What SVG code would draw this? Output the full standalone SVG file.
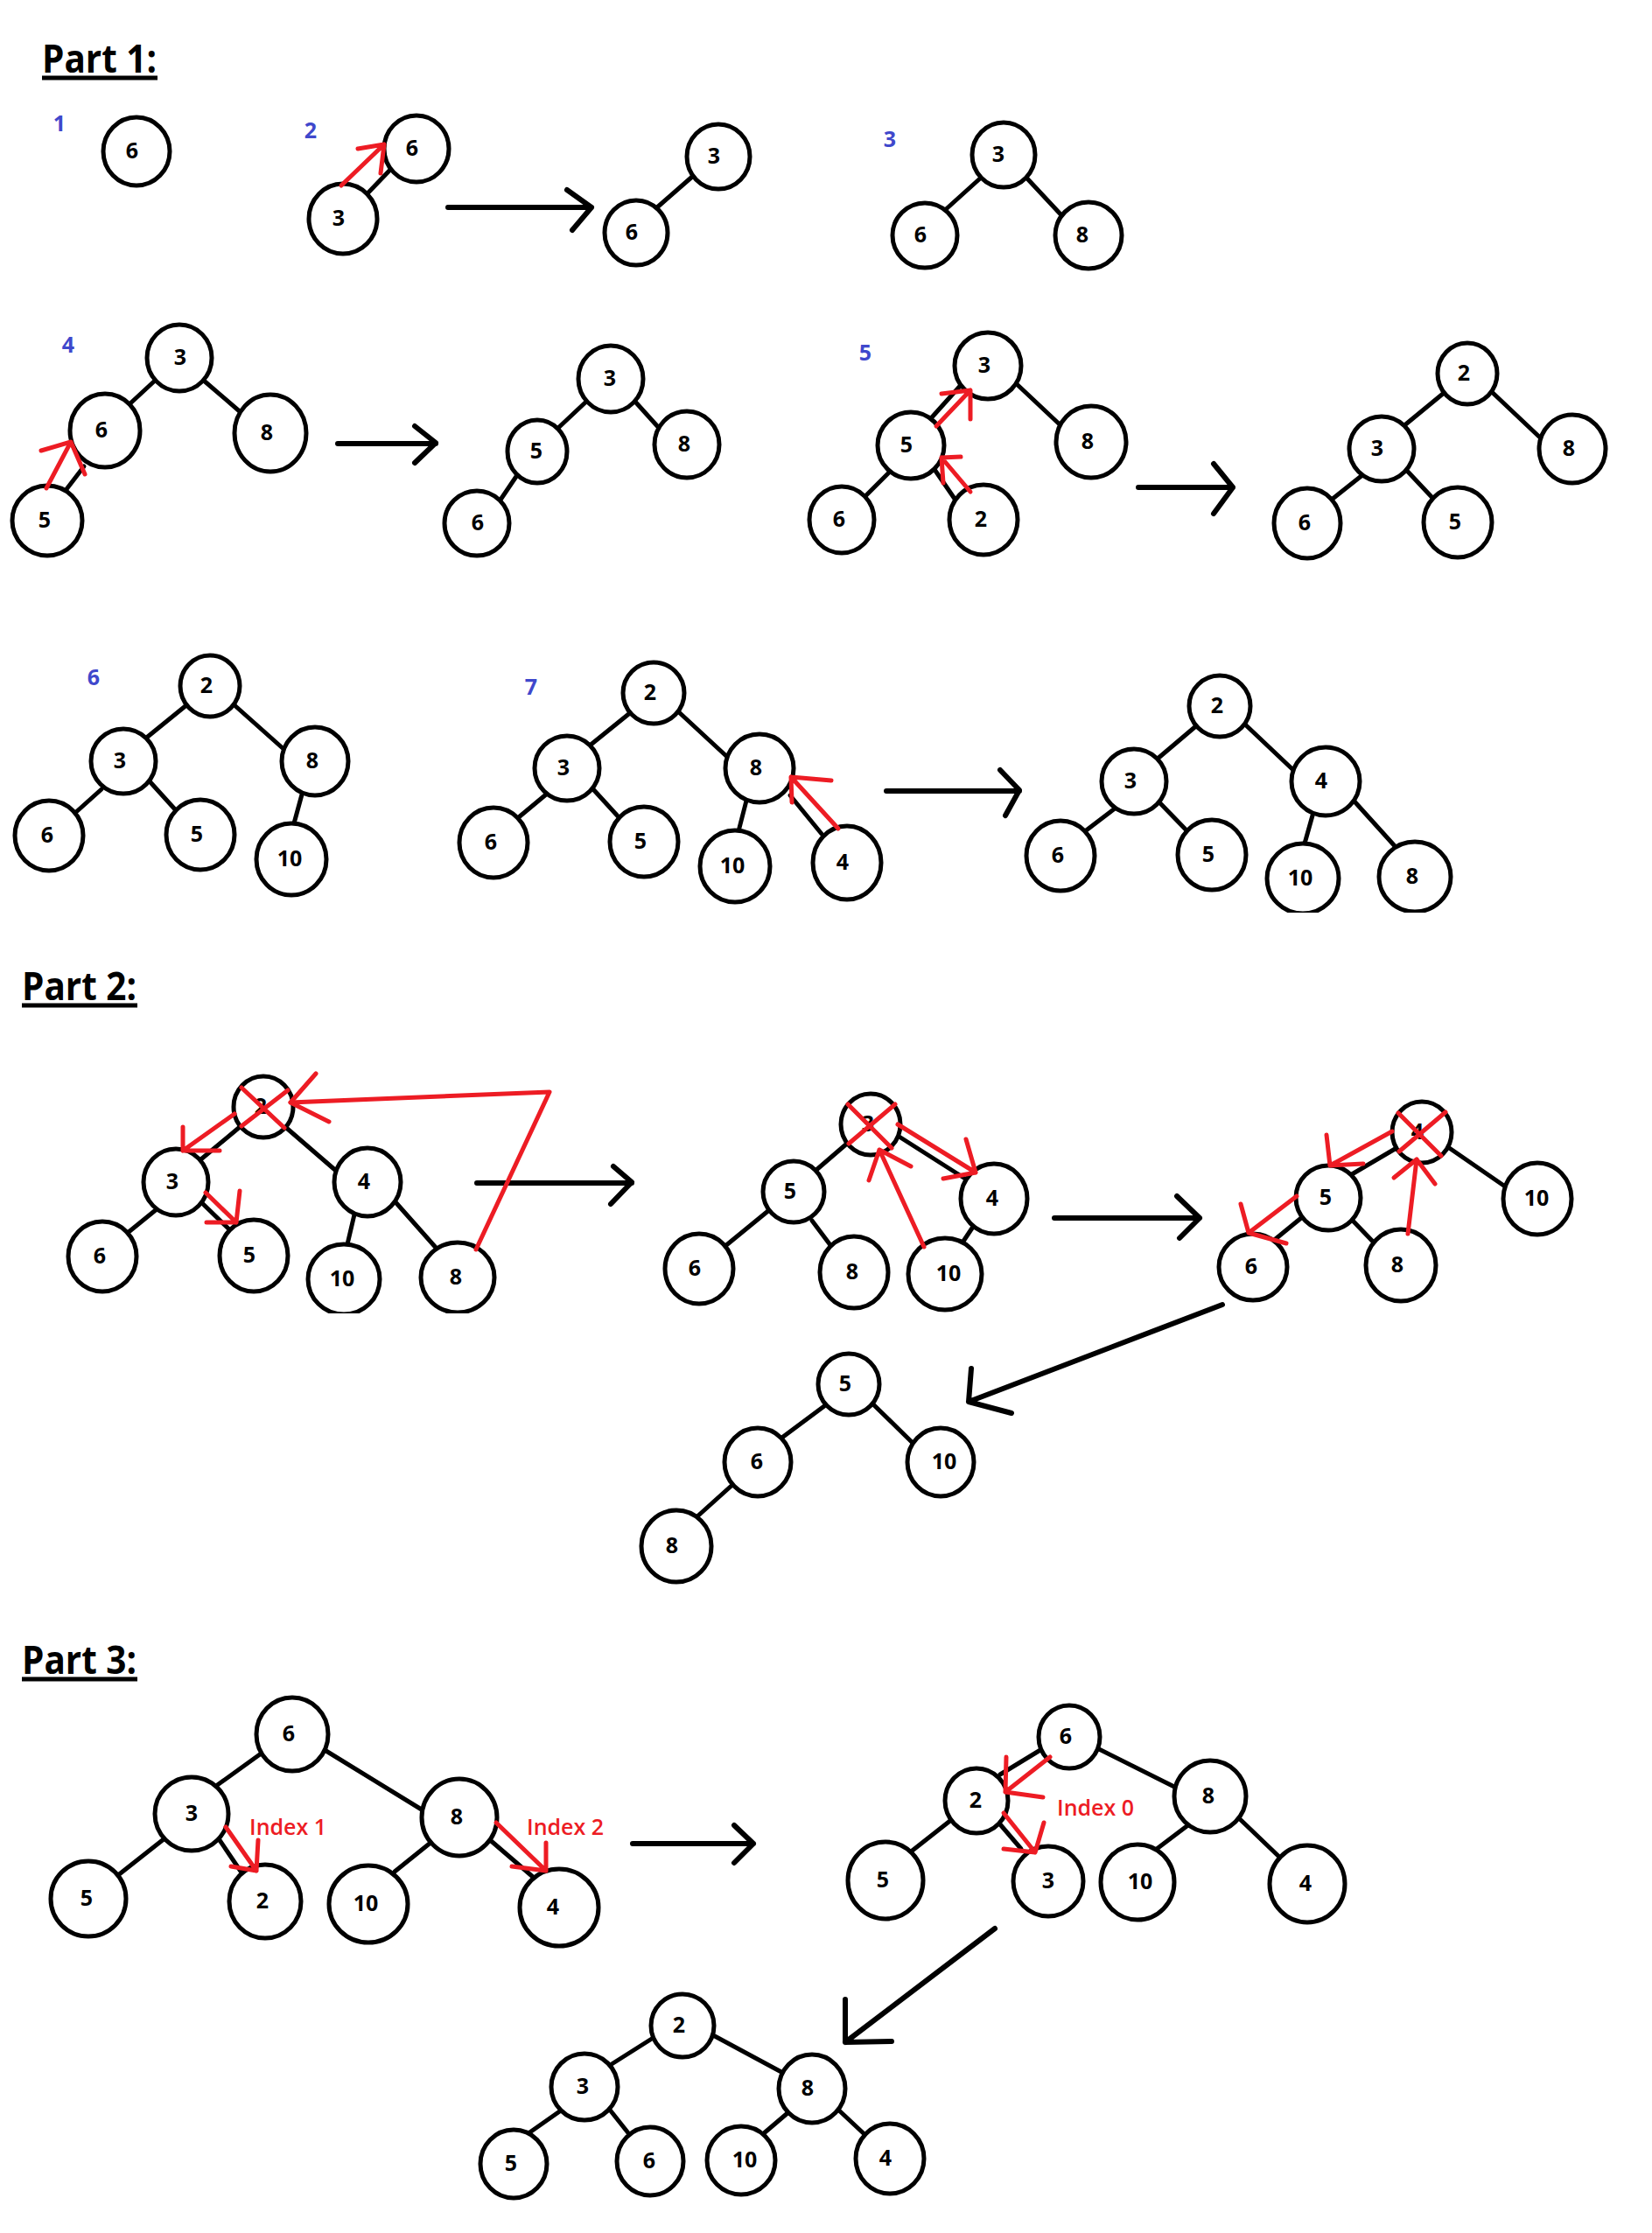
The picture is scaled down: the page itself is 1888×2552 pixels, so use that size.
<svg xmlns="http://www.w3.org/2000/svg" width="1888" height="2552" viewBox="0 0 1888 2552">
<style>
.n ellipse{fill:#fff;stroke:#000;stroke-width:5}
.n text{font-family:"Open Sans","Noto Sans","Liberation Sans",sans-serif;font-weight:bold;font-size:25px;text-anchor:middle;fill:#000}
.e line{stroke:#000;stroke-width:5;stroke-linecap:round}
.ar{stroke:#000;stroke-width:6;fill:none;stroke-linecap:round;stroke-linejoin:round}
.r{stroke:#ed1c24;stroke-width:5;fill:none;stroke-linecap:round;stroke-linejoin:round}
.step{font-family:"Open Sans","Noto Sans","Liberation Sans",sans-serif;font-size:25px;font-weight:bold;fill:#3f48cc;text-anchor:middle}
.hd{font-family:"Open Sans","Noto Sans","Liberation Sans",sans-serif;font-size:44px;font-weight:bold;fill:#000}
.idx{font-family:"Open Sans","Noto Sans","Liberation Sans",sans-serif;font-size:25px;font-weight:600;fill:#ed1c24}
</style>
<defs>
<clipPath id="clipA"><rect x="0" y="0" width="1888" height="1043"/></clipPath>
<clipPath id="clipB"><rect x="0" y="0" width="1888" height="1501"/></clipPath>
</defs>
<rect x="0" y="0" width="1888" height="2552" fill="#fff"/>

<!-- headings -->
<g id="headings">
<text class="hd" x="48" y="83" textLength="131" lengthAdjust="spacingAndGlyphs">Part 1:</text>
<line x1="48" y1="89" x2="180" y2="89" stroke="#000" stroke-width="5"/>
<text class="hd" x="25" y="1143" textLength="131" lengthAdjust="spacingAndGlyphs">Part 2:</text>
<line x1="25" y1="1149" x2="157" y2="1149" stroke="#000" stroke-width="5"/>
<text class="hd" x="25" y="1913" textLength="131" lengthAdjust="spacingAndGlyphs">Part 3:</text>
<line x1="25" y1="1919" x2="157" y2="1919" stroke="#000" stroke-width="5"/>
</g>

<g id="step-labels">
<text class="step" x="68" y="150">1</text>
<text class="step" x="355" y="158">2</text>
<text class="step" x="1017" y="168">3</text>
<text class="step" x="78" y="403">4</text>
<text class="step" x="989" y="412">5</text>
<text class="step" x="107" y="783">6</text>
<text class="step" x="607" y="794">7</text>
</g>

<!-- connectors -->
<g id="connectors" class="e">
<line x1="421" y1="220" x2="445" y2="195"/>
<line x1="751" y1="237" x2="791" y2="202"/>
<line x1="1120" y1="204" x2="1079" y2="241"/><line x1="1173" y1="203" x2="1215" y2="248"/>
<line x1="177" y1="435" x2="150" y2="460"/><line x1="233" y1="435" x2="276" y2="472"/><line x1="96" y1="533" x2="73" y2="563"/>
<line x1="671" y1="458" x2="638" y2="489"/><line x1="725" y1="458" x2="753" y2="489"/><line x1="591" y1="543" x2="568" y2="577"/>
<line x1="1100" y1="438" x2="1064" y2="478"/><line x1="1162" y1="439" x2="1212" y2="486"/><line x1="1019" y1="537" x2="988" y2="568"/><line x1="1069" y1="538" x2="1091" y2="570"/>
<line x1="1649" y1="450" x2="1604" y2="487"/><line x1="1705" y1="448" x2="1760" y2="500"/><line x1="1557" y1="543" x2="1523" y2="570"/><line x1="1608" y1="538" x2="1640" y2="572"/>
<line x1="213" y1="806" x2="165" y2="845"/><line x1="268" y1="806" x2="323" y2="855"/><line x1="116" y1="902" x2="87" y2="928"/><line x1="171" y1="893" x2="200" y2="925"/><line x1="345" y1="908" x2="336" y2="941"/>
<line x1="721" y1="814" x2="674" y2="852"/><line x1="776" y1="814" x2="830" y2="864"/><line x1="624" y1="908" x2="594" y2="933"/><line x1="677" y1="901" x2="709" y2="936"/><line x1="853" y1="915" x2="844" y2="950"/><line x1="903" y1="909" x2="939" y2="953"/>
<line x1="1369" y1="828" x2="1323" y2="867"/><line x1="1422" y1="827" x2="1478" y2="880"/><line x1="1274" y1="924" x2="1240" y2="950"/><line x1="1325" y1="917" x2="1357" y2="950"/><line x1="1500" y1="932" x2="1491" y2="964"/><line x1="1548" y1="916" x2="1595" y2="968"/>
<line x1="274" y1="1288" x2="226" y2="1328"/><line x1="325" y1="1287" x2="384" y2="1338"/><line x1="179" y1="1382" x2="147" y2="1408"/><line x1="230" y1="1374" x2="264" y2="1407"/><line x1="405" y1="1388" x2="397" y2="1422"/><line x1="453" y1="1375" x2="500" y2="1428"/>
<line x1="969" y1="1306" x2="933" y2="1337"/><line x1="1026" y1="1298" x2="1103" y2="1347"/><line x1="879" y1="1383" x2="824" y2="1428"/><line x1="928" y1="1395" x2="949" y2="1423"/><line x1="1112" y1="1402" x2="1100" y2="1420"/>
<line x1="1596" y1="1312" x2="1545" y2="1342"/><line x1="1652" y1="1309" x2="1723" y2="1358"/><line x1="1487" y1="1392" x2="1454" y2="1419"/><line x1="1545" y1="1394" x2="1571" y2="1421"/>
<line x1="942" y1="1607" x2="895" y2="1642"/><line x1="998" y1="1605" x2="1044" y2="1650"/><line x1="837" y1="1697" x2="797" y2="1733"/>
<line x1="297" y1="2005" x2="247" y2="2041"/><line x1="371" y1="2000" x2="485" y2="2070"/><line x1="187" y1="2102" x2="135" y2="2143"/><line x1="251" y1="2103" x2="276" y2="2140"/><line x1="492" y1="2106" x2="451" y2="2139"/><line x1="559" y1="2102" x2="609" y2="2145"/>
<line x1="1189" y1="2000" x2="1143" y2="2028"/><line x1="1254" y1="1998" x2="1344" y2="2043"/><line x1="1087" y1="2080" x2="1040" y2="2117"/><line x1="1143" y1="2085" x2="1167" y2="2113"/><line x1="1359" y1="2085" x2="1322" y2="2113"/><line x1="1416" y1="2078" x2="1465" y2="2125"/>
<line x1="748" y1="2328" x2="699" y2="2359"/><line x1="815" y1="2326" x2="893" y2="2368"/><line x1="641" y1="2412" x2="604" y2="2438"/><line x1="696" y1="2410" x2="719" y2="2439"/><line x1="900" y1="2415" x2="873" y2="2438"/><line x1="959" y1="2412" x2="991" y2="2442"/>
</g>

<!-- transition arrows -->
<g id="transition-arrows">
<path class="ar" d="M512 237H676M648 217L676 237L654 263"/>
<path class="ar" d="M386 507H498M474 487L498 506L474 529"/>
<path class="ar" d="M1301 557H1409M1387 530L1409 557L1387 587"/>
<path class="ar" d="M1013 904H1165M1143 880L1165 903L1149 932"/>
<path class="ar" d="M545 1352H722M701 1333L722 1351L698 1376"/>
<path class="ar" d="M1205 1392H1371M1345 1367L1371 1392L1348 1415"/>
<path class="ar" d="M1397 1491L1107 1602M1110 1564L1107 1602L1156 1615"/>
<path class="ar" d="M723 2107H861M839 2086L861 2107L839 2129"/>
<path class="ar" d="M1137 2204L966 2334M966 2285L966 2334L1019 2333"/>
</g>

<!-- nodes: Part 1 -->
<g id="p1s1-6" class="n"><ellipse cx="156" cy="173" rx="38" ry="39"/><text x="151" y="181">6</text></g>
<g id="p1s2-6" class="n"><ellipse cx="476" cy="170" rx="37" ry="38"/><text x="471" y="178">6</text></g>
<g id="p1s2-3" class="n"><ellipse cx="392" cy="250" rx="39" ry="40"/><text x="387" y="258">3</text></g>
<g id="p1s2r-3" class="n"><ellipse cx="821" cy="179" rx="36" ry="37"/><text x="816" y="187">3</text></g>
<g id="p1s2r-6" class="n"><ellipse cx="727" cy="266" rx="36" ry="37"/><text x="722" y="274">6</text></g>
<g id="p1s3-3" class="n"><ellipse cx="1147" cy="177" rx="36" ry="37"/><text x="1141" y="185">3</text></g>
<g id="p1s3-6" class="n"><ellipse cx="1057" cy="269" rx="37" ry="37"/><text x="1052" y="277">6</text></g>
<g id="p1s3-8" class="n"><ellipse cx="1244" cy="269" rx="38" ry="38"/><text x="1237" y="277">8</text></g>
<g id="p1s4-3" class="n"><ellipse cx="205" cy="409" rx="37" ry="38"/><text x="206" y="417">3</text></g>
<g id="p1s4-6" class="n"><ellipse cx="120" cy="492" rx="40" ry="42"/><text x="116" y="500">6</text></g>
<g id="p1s4-8" class="n"><ellipse cx="309" cy="495" rx="41" ry="44"/><text x="305" y="503">8</text></g>
<g id="p1s4-5" class="n"><ellipse cx="54" cy="595" rx="40" ry="40"/><text x="51" y="603">5</text></g>
<g id="p1s4r-3" class="n"><ellipse cx="698" cy="433" rx="37" ry="38"/><text x="697" y="441">3</text></g>
<g id="p1s4r-5" class="n"><ellipse cx="614" cy="516" rx="34" ry="36"/><text x="613" y="524">5</text></g>
<g id="p1s4r-8" class="n"><ellipse cx="785" cy="508" rx="37" ry="38"/><text x="782" y="516">8</text></g>
<g id="p1s4r-6" class="n"><ellipse cx="545" cy="598" rx="37" ry="37"/><text x="546" y="606">6</text></g>
<g id="p1s5-3" class="n"><ellipse cx="1129" cy="418" rx="38" ry="38"/><text x="1125" y="426">3</text></g>
<g id="p1s5-5" class="n"><ellipse cx="1041" cy="509" rx="38" ry="38"/><text x="1036" y="517">5</text></g>
<g id="p1s5-8" class="n"><ellipse cx="1247" cy="505" rx="40" ry="41"/><text x="1243" y="513">8</text></g>
<g id="p1s5-6" class="n"><ellipse cx="962" cy="594" rx="37" ry="38"/><text x="959" y="602">6</text></g>
<g id="p1s5-2" class="n"><ellipse cx="1124" cy="594" rx="39" ry="40"/><text x="1121" y="602">2</text></g>
<g id="p1s5r-2" class="n"><ellipse cx="1677" cy="427" rx="34" ry="35"/><text x="1673" y="435">2</text></g>
<g id="p1s5r-3" class="n"><ellipse cx="1579" cy="513" rx="37" ry="37"/><text x="1574" y="521">3</text></g>
<g id="p1s5r-8" class="n"><ellipse cx="1797" cy="513" rx="38" ry="39"/><text x="1793" y="521">8</text></g>
<g id="p1s5r-6" class="n"><ellipse cx="1494" cy="598" rx="38" ry="40"/><text x="1491" y="606">6</text></g>
<g id="p1s5r-5" class="n"><ellipse cx="1666" cy="597" rx="39" ry="40"/><text x="1663" y="605">5</text></g>
<g id="p1s6-2" class="n"><ellipse cx="240" cy="784" rx="34" ry="35"/><text x="236" y="792">2</text></g>
<g id="p1s6-3" class="n"><ellipse cx="141" cy="870" rx="37" ry="37"/><text x="137" y="878">3</text></g>
<g id="p1s6-8" class="n"><ellipse cx="360" cy="870" rx="38" ry="39"/><text x="357" y="878">8</text></g>
<g id="p1s6-6" class="n"><ellipse cx="56" cy="955" rx="39" ry="40"/><text x="54" y="963">6</text></g>
<g id="p1s6-5" class="n"><ellipse cx="229" cy="954" rx="39" ry="40"/><text x="225" y="962">5</text></g>
<g id="p1s6-10" class="n"><ellipse cx="333" cy="982" rx="40" ry="41"/><text x="331" y="990">10</text></g>
<g id="p1s7-2" class="n"><ellipse cx="747" cy="792" rx="35" ry="35"/><text x="743" y="800">2</text></g>
<g id="p1s7-3" class="n"><ellipse cx="648" cy="878" rx="37" ry="37"/><text x="644" y="886">3</text></g>
<g id="p1s7-8" class="n"><ellipse cx="868" cy="878" rx="39" ry="39"/><text x="864" y="886">8</text></g>
<g id="p1s7-6" class="n"><ellipse cx="564" cy="963" rx="39" ry="40"/><text x="561" y="971">6</text></g>
<g id="p1s7-5" class="n"><ellipse cx="736" cy="962" rx="39" ry="40"/><text x="732" y="970">5</text></g>
<g id="p1s7-10" class="n"><ellipse cx="840" cy="990" rx="40" ry="41"/><text x="837" y="998">10</text></g>
<g id="p1s7-4" class="n"><ellipse cx="968" cy="986" rx="39" ry="42"/><text x="963" y="994">4</text></g>
<g id="p1s7r-2" class="n"><ellipse cx="1394" cy="807" rx="35" ry="35"/><text x="1391" y="815">2</text></g>
<g id="p1s7r-3" class="n"><ellipse cx="1296" cy="893" rx="37" ry="37"/><text x="1292" y="901">3</text></g>
<g id="p1s7r-4" class="n"><ellipse cx="1515" cy="893" rx="39" ry="39"/><text x="1510" y="901">4</text></g>
<g id="p1s7r-6" class="n"><ellipse cx="1212" cy="978" rx="39" ry="40"/><text x="1209" y="986">6</text></g>
<g id="p1s7r-5" class="n"><ellipse cx="1385" cy="977" rx="39" ry="40"/><text x="1381" y="985">5</text></g>
<g id="p1s7r-10" class="n" clip-path="url(#clipA)"><ellipse cx="1489" cy="1004" rx="41" ry="40"/><text x="1486" y="1012">10</text></g>
<g id="p1s7r-8" class="n" clip-path="url(#clipA)"><ellipse cx="1617" cy="1002" rx="41" ry="40"/><text x="1614" y="1010">8</text></g>

<!-- nodes: Part 2 -->
<g id="p2a-2" class="n"><ellipse cx="301" cy="1265" rx="34" ry="35"/><text x="298" y="1273">2</text></g>
<g id="p2a-3" class="n"><ellipse cx="201" cy="1351" rx="37" ry="38"/><text x="197" y="1359">3</text></g>
<g id="p2a-4" class="n"><ellipse cx="420" cy="1351" rx="38" ry="39"/><text x="416" y="1359">4</text></g>
<g id="p2a-6" class="n"><ellipse cx="117" cy="1436" rx="39" ry="40"/><text x="114" y="1444">6</text></g>
<g id="p2a-5" class="n"><ellipse cx="290" cy="1435" rx="39" ry="41"/><text x="285" y="1443">5</text></g>
<g id="p2a-10" class="n" clip-path="url(#clipB)"><ellipse cx="393" cy="1462" rx="41" ry="40"/><text x="391" y="1470">10</text></g>
<g id="p2a-8" class="n" clip-path="url(#clipB)"><ellipse cx="523" cy="1460" rx="42" ry="40"/><text x="521" y="1468">8</text></g>
<g id="p2b-3" class="n"><ellipse cx="995" cy="1285" rx="34" ry="35"/><text x="992" y="1293">3</text></g>
<g id="p2b-5" class="n"><ellipse cx="907" cy="1362" rx="35" ry="35"/><text x="903" y="1370">5</text></g>
<g id="p2b-4" class="n"><ellipse cx="1136" cy="1370" rx="38" ry="40"/><text x="1134" y="1378">4</text></g>
<g id="p2b-6" class="n"><ellipse cx="799" cy="1450" rx="39" ry="40"/><text x="794" y="1458">6</text></g>
<g id="p2b-8" class="n"><ellipse cx="976" cy="1454" rx="39" ry="41"/><text x="974" y="1462">8</text></g>
<g id="p2b-10" class="n"><ellipse cx="1080" cy="1456" rx="42" ry="41"/><text x="1084" y="1464">10</text></g>
<g id="p2c-4" class="n"><ellipse cx="1625" cy="1294" rx="34" ry="35"/><text x="1620" y="1302">4</text></g>
<g id="p2c-5" class="n"><ellipse cx="1518" cy="1369" rx="37" ry="37"/><text x="1515" y="1377">5</text></g>
<g id="p2c-10" class="n"><ellipse cx="1757" cy="1370" rx="39" ry="41"/><text x="1756" y="1378">10</text></g>
<g id="p2c-6" class="n"><ellipse cx="1432" cy="1448" rx="39" ry="38"/><text x="1430" y="1456">6</text></g>
<g id="p2c-8" class="n"><ellipse cx="1601" cy="1446" rx="40" ry="41"/><text x="1597" y="1454">8</text></g>
<g id="p2d-5" class="n"><ellipse cx="970" cy="1582" rx="35" ry="35"/><text x="966" y="1590">5</text></g>
<g id="p2d-6" class="n"><ellipse cx="866" cy="1671" rx="38" ry="39"/><text x="865" y="1679">6</text></g>
<g id="p2d-10" class="n"><ellipse cx="1075" cy="1671" rx="38" ry="39"/><text x="1079" y="1679">10</text></g>
<g id="p2d-8" class="n"><ellipse cx="773" cy="1767" rx="40" ry="41"/><text x="768" y="1775">8</text></g>

<!-- nodes: Part 3 -->
<g id="p3a-6" class="n"><ellipse cx="334" cy="1982" rx="41" ry="42"/><text x="330" y="1990">6</text></g>
<g id="p3a-3" class="n"><ellipse cx="219" cy="2073" rx="42" ry="42"/><text x="219" y="2081">3</text></g>
<g id="p3a-8" class="n"><ellipse cx="525" cy="2077" rx="43" ry="44"/><text x="522" y="2085">8</text></g>
<g id="p3a-5" class="n"><ellipse cx="101" cy="2170" rx="43" ry="43"/><text x="99" y="2178">5</text></g>
<g id="p3a-2" class="n"><ellipse cx="303" cy="2173" rx="41" ry="42"/><text x="300" y="2181">2</text></g>
<g id="p3a-10" class="n"><ellipse cx="421" cy="2176" rx="45" ry="44"/><text x="418" y="2184">10</text></g>
<g id="p3a-4" class="n"><ellipse cx="639" cy="2180" rx="45" ry="44"/><text x="632" y="2188">4</text></g>
<g id="p3b-6" class="n"><ellipse cx="1222" cy="1985" rx="35" ry="36"/><text x="1218" y="1993">6</text></g>
<g id="p3b-2" class="n"><ellipse cx="1116" cy="2058" rx="36" ry="37"/><text x="1115" y="2066">2</text></g>
<g id="p3b-8" class="n"><ellipse cx="1383" cy="2053" rx="41" ry="41"/><text x="1381" y="2061">8</text></g>
<g id="p3b-5" class="n"><ellipse cx="1012" cy="2149" rx="43" ry="44"/><text x="1009" y="2157">5</text></g>
<g id="p3b-3" class="n"><ellipse cx="1198" cy="2150" rx="40" ry="40"/><text x="1198" y="2158">3</text></g>
<g id="p3b-10" class="n"><ellipse cx="1300" cy="2151" rx="42" ry="43"/><text x="1303" y="2159">10</text></g>
<g id="p3b-4" class="n"><ellipse cx="1494" cy="2153" rx="43" ry="44"/><text x="1492" y="2161">4</text></g>
<g id="p3c-2" class="n"><ellipse cx="780" cy="2315" rx="36" ry="36"/><text x="776" y="2323">2</text></g>
<g id="p3c-3" class="n"><ellipse cx="668" cy="2385" rx="38" ry="38"/><text x="666" y="2393">3</text></g>
<g id="p3c-8" class="n"><ellipse cx="928" cy="2387" rx="38" ry="39"/><text x="923" y="2395">8</text></g>
<g id="p3c-5" class="n"><ellipse cx="587" cy="2473" rx="38" ry="39"/><text x="584" y="2481">5</text></g>
<g id="p3c-6" class="n"><ellipse cx="743" cy="2470" rx="38" ry="39"/><text x="742" y="2478">6</text></g>
<g id="p3c-10" class="n"><ellipse cx="847" cy="2469" rx="39" ry="39"/><text x="851" y="2477">10</text></g>
<g id="p3c-4" class="n"><ellipse cx="1017" cy="2467" rx="39" ry="40"/><text x="1012" y="2475">4</text></g>

<!-- red annotations -->
<g id="red-annotations">
<path class="r" d="M390 212L439 165M409 170L439 165L435 198"/>
<path class="r" d="M53 558L81 505M47 515L81 505L97 542"/>
<path class="r" d="M1070 487L1109 446M1076 450L1109 446L1109 479"/>
<path class="r" d="M1109 562L1076 523M1098 522L1076 523L1078 552"/>
<path class="r" d="M958 947L904 888M950 892L904 888L905 917"/>
<path class="r" d="M276 1243L325 1289M329 1246L276 1287"/>
<path class="r" d="M544 1428L628 1248L332 1260" stroke-width="3.5"/>
<path class="r" d="M361 1227L332 1260L376 1282"/>
<path class="r" d="M268 1273L209 1315M209 1288L209 1315L251 1315"/>
<path class="r" d="M235 1363L270 1397M274 1361L270 1397L236 1397"/>
<path class="r" d="M969 1262L1019 1312M1023 1262L970 1307"/>
<path class="r" d="M1026 1285L1115 1340M1104 1302L1115 1340L1078 1347"/>
<path class="r" d="M1056 1425L1005 1314M993 1349L1005 1314L1041 1333"/>
<path class="r" d="M1598 1272L1647 1321M1652 1271L1599 1316"/>
<path class="r" d="M1591 1293L1520 1332M1516 1297L1520 1332L1558 1330"/>
<path class="r" d="M1482 1367L1427 1409M1418 1376L1427 1409L1470 1421"/>
<path class="r" d="M1609 1410L1619 1325M1593 1346L1619 1325L1640 1353"/>
<path class="r" d="M258 2088L293 2138M295 2103L293 2138L264 2133"/>
<path class="r" d="M567 2083L624 2138M624 2106L624 2138L585 2133"/>
<path class="r" d="M1200 2008L1149 2048M1150 2008L1149 2048L1192 2054"/>
<path class="r" d="M1147 2072L1183 2117M1193 2083L1183 2117L1147 2113"/>
<text class="idx" x="285" y="2097">Index 1</text>
<text class="idx" x="602" y="2097">Index 2</text>
<text class="idx" x="1208" y="2075">Index 0</text>
</g>
</svg>
